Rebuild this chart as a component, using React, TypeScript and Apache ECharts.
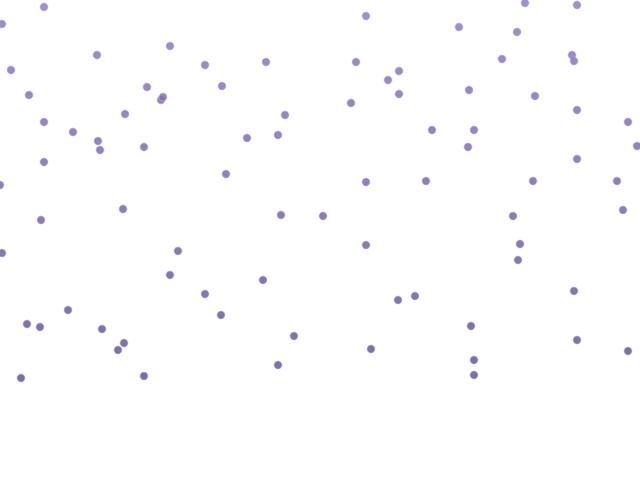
import React, { useEffect, useRef } from "react";
import * as echarts from "echarts";

// Point positions (x across 0-640, y up 0-480)
const xValues: number[] = [
  44, 2, 170, 97, 205, 266, 11, 147, 222, 29, 161, 163, 125, 285, 44, 73, 98, 100, 144, 247,
  278, 44, 0, 226, 123, 41, 281, 323,
  525, 577, 366, 459, 517, 356, 502, 572, 574, 399, 388, 399, 469, 535, 351, 577, 628, 432,
  474, 468, 637, 577, 366, 426, 533, 617, 513, 623,
  2, 178, 170, 263, 205, 68, 221, 27, 40, 102, 294, 124, 118, 278, 21, 144,
  366, 520, 518, 574, 398, 415, 471, 577, 628, 371, 474, 474,
];
const yValues: number[] = [
  473, 456, 434, 425, 415, 418, 410, 393, 394, 385, 380, 383, 366, 365, 358, 348, 339, 330, 333, 342,
  345, 318, 295, 306, 271, 260, 265, 264,
  477, 475, 464, 453, 448, 418, 421, 425, 419, 409, 400, 386, 390, 384, 377, 370, 358, 350,
  350, 333, 334, 321, 298, 299, 299, 299, 264, 270,
  227, 229, 205, 200, 186, 170, 165, 156, 153, 151, 144, 137, 130, 115, 102, 104,
  235, 236, 220, 189, 180, 184, 154, 140, 129, 131, 120, 105,
];

export default function App() {
  const ref = useRef<HTMLDivElement>(null);
  useEffect(() => {
    if (!ref.current) return;
    const chart = echarts.init(ref.current, null, { renderer: "svg" });
    const data = xValues.map((x, i) => [x, yValues[i]]);
    chart.setOption({
      animation: false,
      grid: { left: 0, right: 0, top: 0, bottom: 0 },
      xAxis: { type: "value", min: 0, max: 640, show: false },
      yAxis: { type: "value", min: 0, max: 480, show: false },
      visualMap: {
        show: false,
        type: "continuous",
        dimension: 1,
        min: 100,
        max: 480,
        inRange: { color: ["#5a4d80", "#8a78b2"] },
      },
      series: [
        {
          type: "scatter",
          data,
          symbolSize: 8,
          itemStyle: {
            borderColor: "rgba(190,170,255,0.7)",
            borderWidth: 1,
          },
        },
      ],
    });
    return () => chart.dispose();
  }, []);
  return <div ref={ref} style={{ width: 640, height: 480, position: "absolute", left: 0, top: 0 }} />;
}
